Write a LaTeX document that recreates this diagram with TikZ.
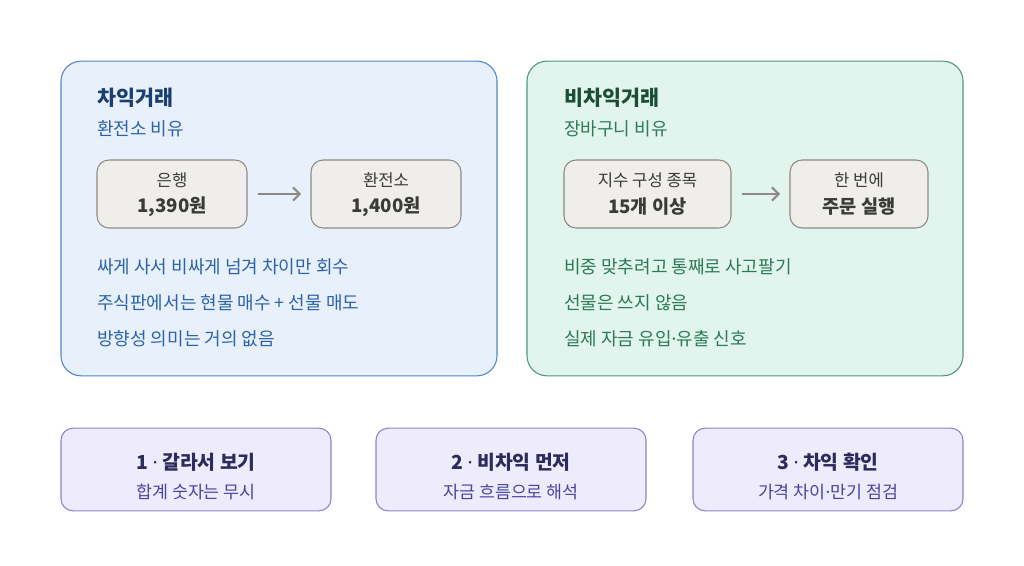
\documentclass[tikz,border=0pt]{standalone}
\usepackage{fontspec}
\setmainfont{Noto Sans CJK KR}
\newfontfamily\dotfont{Noto Sans}
\newcommand\mdot{{\dotfont ·}}
\usetikzlibrary{arrows.meta}
\definecolor{arbfill}{HTML}{E8F0FC}
\definecolor{arbline}{HTML}{4F86CF}
\definecolor{arbhead}{HTML}{1B3F6E}
\definecolor{arbtext}{HTML}{2C64AA}
\definecolor{narbfill}{HTML}{E2F4EE}
\definecolor{narbline}{HTML}{4C9A7A}
\definecolor{narbhead}{HTML}{1C4D38}
\definecolor{narbtext}{HTML}{2B7A58}
\definecolor{boxfill}{HTML}{EFEEEA}
\definecolor{boxline}{HTML}{8C8A86}
\definecolor{boxtext}{HTML}{3A3A3A}
\definecolor{stepfill}{HTML}{EEECFC}
\definecolor{stepline}{HTML}{8C84D0}
\definecolor{stephead}{HTML}{2D2A5C}
\definecolor{steptext}{HTML}{4A44A0}
\tikzstyle{panel}=[rectangle,rounded corners=15pt,line width=0.8pt,minimum width=327pt,minimum height=236pt]
\tikzstyle{pricebox}=[rectangle,rounded corners=9pt,draw=boxline,fill=boxfill,line width=0.8pt,minimum height=51pt]
\tikzstyle{stepbox}=[rectangle,rounded corners=9pt,draw=stepline,fill=stepfill,line width=0.8pt,minimum width=202.5pt,minimum height=62pt]
\tikzstyle{head}=[anchor=west,inner sep=0pt,font=\fontsize{15.5}{18}\selectfont\bfseries]
\tikzstyle{body}=[anchor=west,inner sep=0pt,font=\fontsize{13.5}{16}\selectfont]
\tikzstyle{small}=[inner sep=0pt,text=boxtext,font=\fontsize{12.5}{15}\selectfont]
\tikzstyle{big}=[inner sep=0pt,text=boxtext,font=\fontsize{14}{16}\selectfont\bfseries]
\tikzstyle{flow}=[-{Straight Barb[length=5pt,width=10pt]},draw=boxline,line width=1.6pt,shorten <=7.5pt,shorten >=7pt]

\begin{document}
\begin{tikzpicture}[x=0.75pt,y=-0.75pt]
\useasboundingbox (0,0) rectangle (1024,566);
% two panels
\node[panel,draw=arbline,fill=arbfill] (arb) at (279,218.5) {};
\node[panel,draw=narbline,fill=narbfill] (narb) at (745,218.5) {};

% arbitrage
\node[head,text=arbhead] (arbt) at (97,98) {차익거래};
\node[body,text=arbtext] (arbs) at (97,129) {환전소 비유};
\node[pricebox,minimum width=112.5pt] (bank) at (172,194) {};
\node[small] at (172,180) {은행};
\node[big] at (172,207) {1,390원};
\node[pricebox,minimum width=112.5pt] (exch) at (386,194) {};
\node[small] at (386,180) {환전소};
\node[big] at (386,207) {1,400원};
\draw[flow] (bank) -- (exch);
\node[body,text=arbtext] (arb1) at (97,267) {싸게 사서 비싸게 넘겨 차이만 회수};
\node[body,text=arbtext] (arb2) at (97,303) {주식판에서는 현물 매수 + 선물 매도};
\node[body,text=arbtext] (arb3) at (97,339) {방향성 의미는 거의 없음};

% non-arbitrage
\node[head,text=narbhead] (narbt) at (564,98) {비차익거래};
\node[body,text=narbtext] (narbs) at (564,129) {장바구니 비유};
\node[pricebox,minimum width=125.25pt] (basket) at (647.5,194) {};
\node[small] at (647.5,180) {지수 구성 종목};
\node[big] at (647.5,207) {15개 이상};
\node[pricebox,minimum width=103.5pt] (order) at (859,194) {};
\node[small] at (859,180) {한 번에};
\node[big] at (859,207) {주문 실행};
\draw[flow] (basket) -- (order);
\node[body,text=narbtext] (narb1) at (564,267) {비중 맞추려고 통째로 사고팔기};
\node[body,text=narbtext] (narb2) at (564,303) {선물은 쓰지 않음};
\node[body,text=narbtext] (narb3) at (564,339) {실제 자금 유입\mdot 유출 신호};

% steps
\node[stepbox] (s1) at (196,469.5) {};
\node[big,text=stephead,font=\fontsize{14.5}{16}\selectfont\bfseries] at (196,462) {1 \mdot\ 갈라서 보기};
\node[small,text=steptext,font=\fontsize{13}{15}\selectfont] at (196,492) {합계 숫자는 무시};
\node[stepbox] (s2) at (511,469.5) {};
\node[big,text=stephead,font=\fontsize{14.5}{16}\selectfont\bfseries] at (511,462) {2 \mdot\ 비차익 먼저};
\node[small,text=steptext,font=\fontsize{13}{15}\selectfont] at (511,492) {자금 흐름으로 해석};
\node[stepbox] (s3) at (828,469.5) {};
\node[big,text=stephead,font=\fontsize{14.5}{16}\selectfont\bfseries] at (828,462) {3 \mdot\ 차익 확인};
\node[small,text=steptext,font=\fontsize{13}{15}\selectfont] at (828,492) {가격 차이\mdot 만기 점검};
\end{tikzpicture}
\end{document}
